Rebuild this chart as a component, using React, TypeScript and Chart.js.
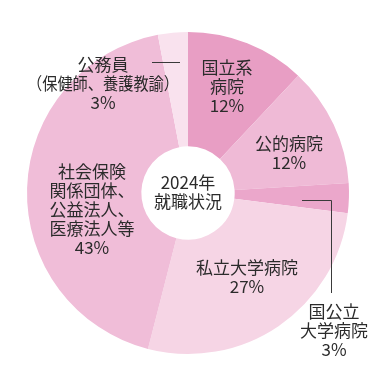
import React, { useEffect, useRef } from "react";
import { Chart, registerables } from "chart.js";

Chart.register(...registerables);

const categories = [
  "国立系病院",
  "公的病院",
  "国公立大学病院",
  "私立大学病院",
  "社会保険関係団体、公益法人、医療法人等",
  "公務員（保健師、養護教諭）",
];
const shares = [12, 12, 3, 27, 43, 3];
const colors = ["#e89ec4", "#efbad6", "#eba7cb", "#f6d5e5", "#f0bdd8", "#f9e2ee"];
const labelLines = [
  ["国立系", "病院", "12%"],
  ["公的病院", "12%"],
  ["国公立", "大学病院", "3%"],
  ["私立大学病院", "27%"],
  ["社会保険", "関係団体、", "公益法人、", "医療法人等", "43%"],
  ["公務員", "（保健師、養護教諭）", "3%"],
];
const centerLines = ["2024年", "就職状況"];

// label block anchors, relative to doughnut centre (px): [dx, dyFirstLine]
const labelAnchors: [number, number][] = [
  [39, -125],
  [101, -49],
  [146, 119],
  [59, 75],
  [-96, -21],
  [-85, -128],
];

const FONT = '"Noto Sans CJK JP", "Noto Sans", sans-serif';
const TEXT = "#2b2b2b";

const labelPlugin = {
  id: "labels",
  afterDraw(chart: any) {
    const ctx = chart.ctx;
    const arc = chart.getDatasetMeta(0).data[0];
    if (!arc) return;
    const cx = arc.x;
    const cy = arc.y;
    ctx.save();
    ctx.fillStyle = TEXT;
    ctx.textAlign = "center";
    ctx.textBaseline = "middle";
    ctx.font = `17px ${FONT}`;
    const lh = 19;
    labelLines.forEach((lines, i) => {
      const [dx, dy] = labelAnchors[i];
      lines.forEach((t, j) => {
        const maxW = t.startsWith("（") ? 152 : undefined;
        if (maxW) ctx.fillText(t, cx + dx, cy + dy + j * lh, maxW);
        else ctx.fillText(t, cx + dx, cy + dy + j * lh);
      });
    });
    centerLines.forEach((t, j) => {
      ctx.fillText(t, cx, cy - 10 + j * 19);
    });
    // leader lines
    ctx.strokeStyle = "#3a3a3a";
    ctx.lineWidth = 1;
    ctx.beginPath();
    ctx.moveTo(cx - 36, cy - 130.5);
    ctx.lineTo(cx - 8, cy - 130.5);
    ctx.stroke();
    ctx.beginPath();
    ctx.moveTo(cx + 114, cy + 7.5);
    ctx.lineTo(cx + 143.5, cy + 7.5);
    ctx.lineTo(cx + 143.5, cy + 100);
    ctx.stroke();
    ctx.restore();
  },
};

export default function App() {
  const ref = useRef<HTMLCanvasElement>(null);
  useEffect(() => {
    document.body.style.margin = "0";
    const chart = new Chart(ref.current!, {
      type: "doughnut",
      data: {
        labels: categories,
        datasets: [
          {
            data: shares,
            backgroundColor: colors,
            borderWidth: 0,
          },
        ],
      },
      options: {
        responsive: false,
        animation: false,
        cutout: "29%",
        rotation: 0,
        layout: { padding: { left: 27, right: 26, top: 32, bottom: 31 } },
        plugins: {
          legend: { display: false },
          tooltip: { enabled: false },
        },
      },
      plugins: [labelPlugin],
    });
    return () => chart.destroy();
  }, []);
  return (
    <div style={{ width: 375, height: 385, background: "#fff" }}>
      <canvas ref={ref} width={375} height={385} />
    </div>
  );
}
